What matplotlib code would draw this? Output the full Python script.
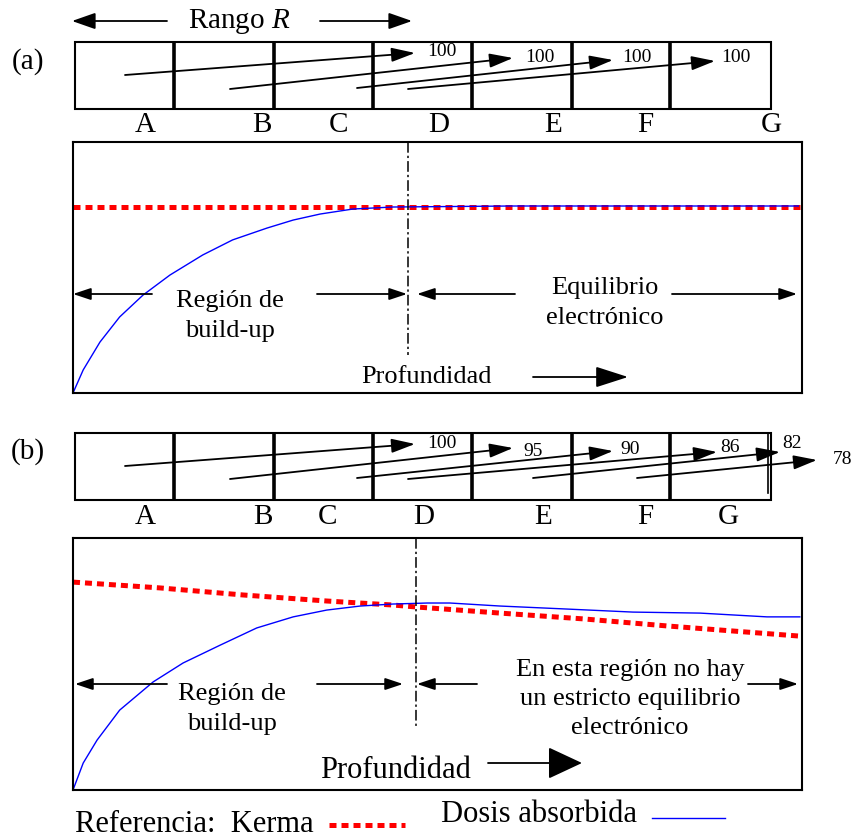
import numpy as np
import matplotlib
matplotlib.use("Agg")
import matplotlib.pyplot as plt
from matplotlib.patches import Rectangle, FancyArrowPatch

plt.rcParams['font.family'] = ['Liberation Serif', 'DejaVu Serif']
plt.rcParams['mathtext.fontset'] = 'custom'
plt.rcParams['mathtext.it'] = 'Liberation Serif:italic'
plt.rcParams['mathtext.rm'] = 'Liberation Serif'

# ---- datos (profundidad y dosis en % del recuadro) ----
depth_a = [0, 1.4, 3.7, 6.4, 9.6, 13.3, 17.8, 21.9, 26.6, 30.2, 33.9, 38.4, 43.9, 60, 80, 99.5]
dose_a = [0, 9.2, 20.3, 30.3, 39.0, 47.0, 55.0, 61.0, 65.7, 68.9, 71.3, 73.3, 74.1, 74.5, 74.5, 74.5]
kerma_depth_a = [0, 100]
kerma_a = [74.0, 74.0]

depth_b = [0, 1.4, 3.3, 6.4, 11.0, 15.1, 20.2, 25.2, 30.2, 34.8, 39.4, 43.9, 48.6,
           51.7, 58.6, 67.8, 76.8, 86.0, 95.2, 99.7]
dose_b = [0, 10.7, 19.8, 31.7, 42.9, 50.4, 57.5, 64.3, 68.7, 71.4, 73.0, 73.8, 74.2,
          74.2, 73.0, 71.8, 70.6, 70.2, 68.7, 68.7]
kerma_depth_b = [0, 11.9, 23.3, 34.8, 43.9, 47.2, 58.6, 70.0, 81.5, 90.5, 100]
kerma_b = [82.5, 80.2, 77.4, 75.0, 73.4, 72.6, 70.2, 67.9, 65.1, 63.1, 61.0]

zonas = ['A', 'B', 'C', 'D', 'E', 'F', 'G']
pct_a = [100, 100, 100, 100]
pct_b = [100, 95, 90, 86, 82, 78]

W, H = 855, 839
fig = plt.figure(figsize=(W / 100, H / 100), dpi=100)


def panel(x0, y0, x1, y1):
    ax = fig.add_axes([x0 / W, 1 - y1 / H, (x1 - x0) / W, (y1 - y0) / H])
    ax.set_xlim(0, 100)
    ax.set_ylim(0, 100)
    ax.set_xticks([])
    ax.set_yticks([])
    for s in ax.spines.values():
        s.set_linewidth(1.5)
    return ax


red_kw = dict(color='#ff0000', lw=3.6, dashes=(1.4, 1.0), dash_capstyle='butt')
blue_kw = dict(color='#0000ff', lw=1.0)

axa = panel(73, 142, 802, 393)
axa.plot(kerma_depth_a, kerma_a, **red_kw)
axa.plot(depth_a, dose_a, **blue_kw)

axb = panel(73, 538, 802, 790)
axb.plot(kerma_depth_b, kerma_b, **red_kw)
axb.plot(depth_b, dose_b, **blue_kw)

# capa superior en pixeles para el esquema
ov = fig.add_axes([0, 0, 1, 1])
ov.set_xlim(0, W)
ov.set_ylim(H, 0)
ov.axis('off')
ov.set_zorder(10)
ov.patch.set_visible(False)


def arrow(x0, y0, x1, y1, hl=14, hw=4, lw=1.3):
    st = '-|>,head_length=%g,head_width=%g' % (hl / 1.39, hw / 1.39)
    ov.add_patch(FancyArrowPatch((x0, y0), (x1, y1), arrowstyle=st, mutation_scale=1,
                                 lw=lw, color='black', shrinkA=0, shrinkB=0))


def strip(top, bot, lab_x, lab_y):
    ov.add_patch(Rectangle((75, top), 771 - 75, bot - top, fill=False, lw=1.5, ec='black'))
    for xd in [174, 274, 373, 472, 572, 670]:
        ov.plot([xd, xd], [top, bot], color='black', lw=2.6, solid_capstyle='butt')
    for z, xl in zip(zonas, lab_x):
        ov.text(xl, lab_y, z, fontsize=21, ha='center', va='center')


dashdot = dict(color='black', lw=1.1, dashes=(7, 2, 1.5, 2))

# ---- (a) ----
ov.text(28, 62, '(a)', fontsize=21, ha='center', va='center')
ov.text(239, 21, 'Rango $R$', fontsize=21, ha='center', va='center')
arrow(167, 21, 72, 21, hl=20, hw=7)
arrow(320, 21, 412, 21, hl=20, hw=7)
strip(42, 109, [145, 262, 338, 439, 553, 645, 771], 125)
arr_a = [(125, 75, 415, 53), (230, 89, 513, 58), (357, 88, 613, 60), (408, 89, 715, 61)]
lab_a = [(442, 52), (540, 57), (637, 57), (736, 58)]
for (x0, y0, x1, y1), (tx, ty), p in zip(arr_a, lab_a, pct_a):
    arrow(x0, y0, x1, y1, hl=20, hw=6)
    ov.text(tx, ty, str(p), fontsize=14, ha='center', va='center')

ov.plot([408, 408], [142, 355], **dashdot)
arrow(152, 294, 73, 294, hl=15, hw=5)
arrow(317, 294, 407, 294, hl=15, hw=5)
arrow(515, 294, 417, 294, hl=15, hw=5)
arrow(672, 294, 797, 294, hl=15, hw=5)
ov.text(230, 316, 'Región de\nbuild-up', fontsize=19, ha='center', va='center', linespacing=1.46)
ov.text(605, 303, 'Equilibrio\nelectrónico', fontsize=19, ha='center', va='center', linespacing=1.46)
ov.text(426, 377, 'Profundidad', fontsize=19, ha='center', va='center')
arrow(533, 377, 628, 377, hl=28, hw=9)

# ---- (b) ----
ov.text(28, 452, '(b)', fontsize=21, ha='center', va='center')
strip(433, 500, [145, 263, 327, 424, 543, 645, 728], 517)
ov.plot([768, 768], [433, 493], color='black', lw=1.2)
arr_b = [(125, 466, 415, 444), (230, 479, 513, 448), (357, 478, 613, 451),
         (408, 479, 717, 452), (533, 478, 780, 452), (637, 478, 817, 460)]
lab_b = [(442, 443), (533, 451), (630, 449), (730, 448), (792, 443), (842, 460)]
for (x0, y0, x1, y1), (tx, ty), p in zip(arr_b, lab_b, pct_b):
    arrow(x0, y0, x1, y1, hl=20, hw=6)
    ov.text(tx, ty, str(p), fontsize=14, ha='center', va='center')

ov.plot([416, 416], [538, 727], **dashdot)
arrow(167, 684, 75, 684, hl=15, hw=5)
arrow(317, 684, 403, 684, hl=15, hw=5)
arrow(477, 684, 417, 684, hl=15, hw=5)
arrow(748, 684, 798, 684, hl=15, hw=5)
ov.text(232, 709, 'Región de\nbuild-up', fontsize=19, ha='center', va='center', linespacing=1.46)
ov.text(630, 699, 'En esta región no hay\nun estricto equilibrio\nelectrónico', fontsize=19,
        ha='center', va='center', linespacing=1.42)
ov.text(395, 770, 'Profundidad', fontsize=22, ha='center', va='center')
arrow(488, 763, 582, 763, hl=30, hw=14)

# ---- leyenda ----
ov.text(75, 824, 'Referencia:  Kerma', fontsize=22, ha='left', va='center')
ov.plot([329, 405], [825, 825], **red_kw)
ov.text(441, 815, 'Dosis absorbida', fontsize=22, ha='left', va='center')
ov.plot([652, 725], [818, 818], **blue_kw)

fig.savefig('out.png', dpi=100)
